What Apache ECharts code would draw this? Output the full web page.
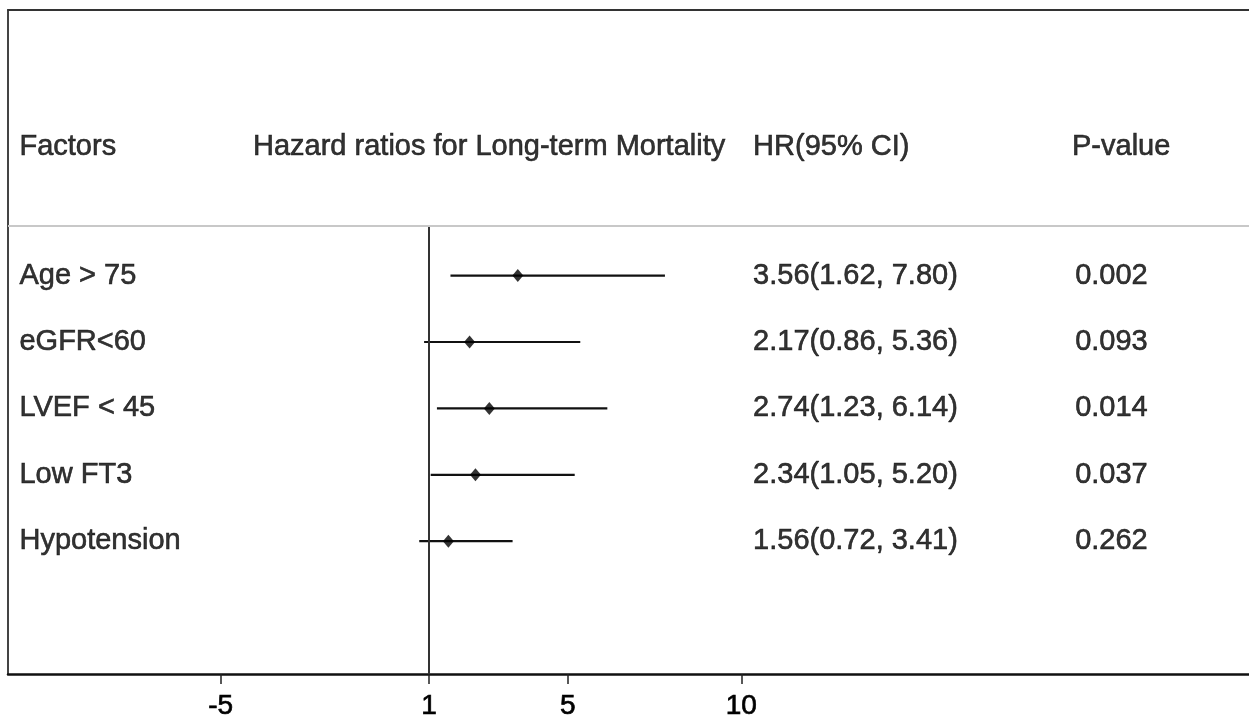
<!DOCTYPE html>
<html>
<head>
<meta charset="utf-8">
<script src="https://cdn.jsdelivr.net/npm/echarts@6/dist/echarts.min.js"></script>
<style>
  html, body { margin: 0; padding: 0; background: #fff; }
  #forest { width: 1249px; height: 722px; }
</style>
</head>
<body>
<div id="forest"></div>
<script>
// data
const factors = ["Age > 75", "eGFR<60", "LVEF < 45", "Low FT3", "Hypotension"];
const hr = [3.56, 2.17, 2.74, 2.34, 1.56];
const ciLow = [1.62, 0.86, 1.23, 1.05, 0.72];
const ciHigh = [7.80, 5.36, 6.14, 5.20, 3.41];
const pValues = ["0.002", "0.093", "0.014", "0.037", "0.262"];
const headers = ["Factors", "Hazard ratios for Long-term Mortality", "HR(95% CI)", "P-value"];
const tickValues = [-5, 1, 5, 10];

// layout (axis units)
const X_MIN = -11.13, X_MAX = 24.63;
const COL_X = [-10.8, -4.07, 10.34, 19.53];
const PCOL_X = 19.62;
const HEADER_ROW = -0.93;
const HEADER_RULE = 0.25;
const FONT = "'Liberation Sans', Arial, sans-serif";

const rows = factors.map((f, i) => i + 1);

const textData = [];
headers.forEach((h, i) => textData.push([COL_X[i], HEADER_ROW, h]));
factors.forEach((f, i) => {
  textData.push([COL_X[0], rows[i], f]);
  textData.push([COL_X[2], rows[i], hr[i].toFixed(2) + "(" + ciLow[i].toFixed(2) + ", " + ciHigh[i].toFixed(2) + ")"]);
  textData.push([PCOL_X, rows[i], pValues[i]]);
});

const ciData = factors.map((f, i) => [ciLow[i], ciHigh[i], rows[i]]);
const pointData = factors.map((f, i) => [hr[i], rows[i]]);

const myChart = echarts.init(document.getElementById("forest"));
const option = {
  backgroundColor: "#fff",
  animation: false,
  grid: { left: 8, right: 0, top: 10, bottom: 48 },
  xAxis: [
    {
      type: "value",
      min: X_MIN,
      max: X_MAX,
      position: "bottom",
      splitLine: { show: false },
      axisLine: { show: true, onZero: false, lineStyle: { color: "#111", width: 2.5 } },
      axisTick: { show: true, customValues: tickValues, length: 10, lineStyle: { color: "#222", width: 1.5 } },
      axisLabel: {
        customValues: tickValues,
        fontFamily: FONT,
        fontSize: 28,
        color: "#000",
        textBorderColor: "#000",
        textBorderWidth: 0.7,
        margin: 18,
      },
    },
    {
      type: "value",
      min: X_MIN,
      max: X_MAX,
      position: "top",
      splitLine: { show: false },
      axisLine: { show: true, onZero: false, lineStyle: { color: "#333", width: 2 } },
      axisTick: { show: false },
      axisLabel: { show: false },
    },
  ],
  yAxis: {
    type: "value",
    inverse: true,
    min: -3,
    max: 7,
    splitLine: { show: false },
    axisLine: { show: true, onZero: false, lineStyle: { color: "#444", width: 2 } },
    axisTick: { show: false },
    axisLabel: { show: false },
  },
  series: [
    {
      name: "CI",
      type: "custom",
      data: ciData,
      renderItem: function (params, api) {
        const a = api.coord([api.value(0), api.value(2)]);
        const b = api.coord([api.value(1), api.value(2)]);
        return {
          type: "line",
          shape: { x1: a[0], y1: a[1], x2: b[0], y2: b[1] },
          style: { stroke: "#111", lineWidth: 2.2 },
        };
      },
      markLine: {
        silent: true,
        symbol: "none",
        label: { show: false },
        data: [[{ coord: [1, HEADER_RULE] }, { coord: [1, 7] }]],
        lineStyle: { type: "solid", color: "#333", width: 2 },
      },
      z: 3,
    },
    {
      name: "rule",
      type: "scatter",
      data: [],
      markLine: {
        silent: true,
        symbol: "none",
        label: { show: false },
        data: [[{ coord: [X_MIN, HEADER_RULE] }, { coord: [X_MAX, HEADER_RULE] }]],
        lineStyle: { type: "solid", color: "#c8c8c8", width: 2 },
      },
    },
    {
      name: "HR",
      type: "scatter",
      data: pointData,
      symbol: "diamond",
      symbolSize: [11, 13],
      itemStyle: { color: "#000" },
      z: 4,
    },
    {
      name: "text",
      type: "scatter",
      data: textData,
      symbolSize: 0,
      silent: true,
      label: {
        show: true,
        position: "right",
        distance: 0,
        formatter: (p) => p.value[2],
        fontFamily: FONT,
        fontSize: 29,
        color: "#000",
        textBorderColor: "#000",
        textBorderWidth: 0.6,
        align: "left",
        verticalAlign: "middle",
      },
    },
  ],
};
option && myChart.setOption(option);
window.addEventListener("resize", myChart.resize);
</script>
</body>
</html>
